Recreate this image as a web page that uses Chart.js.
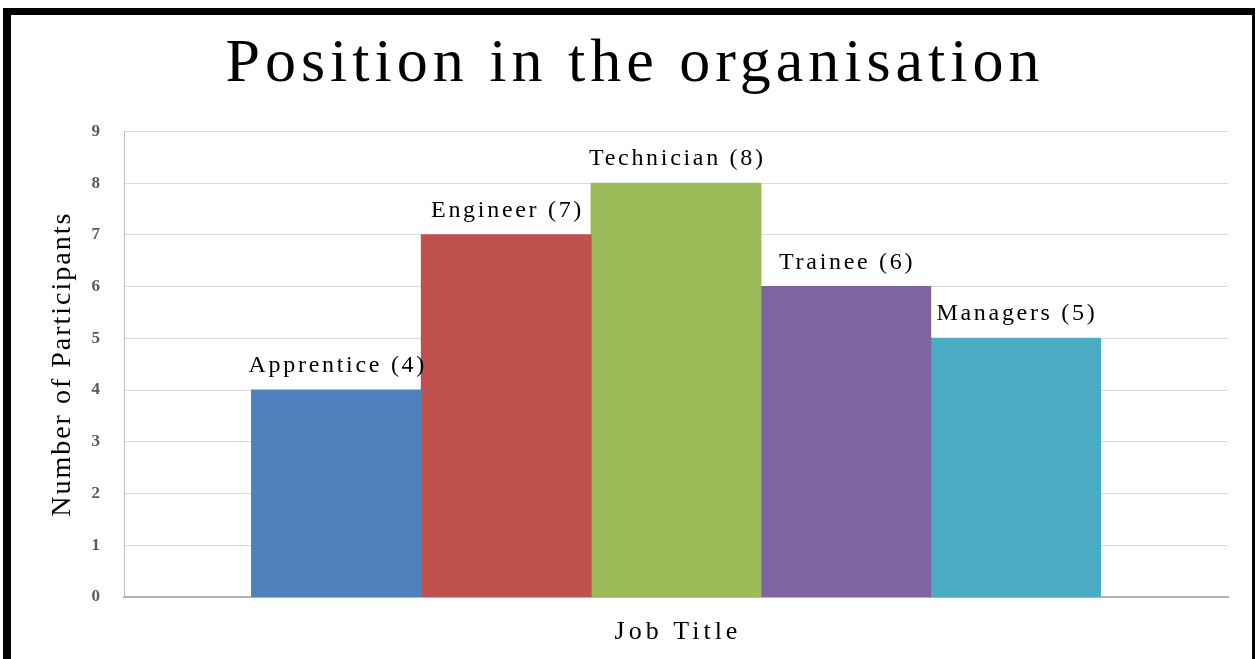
<!DOCTYPE html>
<html>
<head>
<meta charset="utf-8">
<script src="https://cdn.jsdelivr.net/npm/chart.js@4.4.1/dist/chart.umd.min.js"></script>
<style>
   html, body { margin: 0; padding: 0; background: #ffffff; }
   #frame { position: relative; width: 1256px; height: 659px; overflow: hidden; }
   #frame canvas { position: absolute; left: 0; top: 0; }
   #border
   {
      position: absolute; left: 3px; top: 8px; width: 1252px; height: 700px;
      box-sizing: border-box; pointer-events: none;
      border-top: 7px solid #000; border-left: 8px solid #000; border-right: 3px solid #000;
   }
</style>
</head>
<body>
<div id="frame">
   <canvas id="positionChart" width="1256" height="659"></canvas>
   <div id="border"></div>
</div>
<script>
// one category on the x axis, one dataset per job title
const categories = ["Job Title"];
const jobTitles = ["Apprentice", "Engineer", "Technician", "Trainee", "Managers"];
const participants = [4, 7, 8, 6, 5];
const barColours = ["#4f81bd", "#c0504d", "#9bbb59", "#8064a2", "#4bacc6"];
const yMin = 0;
const yMax = 9;
const yStep = 1;

const serif = "'Liberation Serif', 'Times New Roman', serif";

// canvas has no letter-spacing option in Chart.js, so wrap the draw calls
function spaced(draw, spacing)
{
   return function()
   {
      const ctx = this.ctx;
      ctx.save();
      ctx.letterSpacing = spacing;
      draw.apply(this, arguments);
      ctx.restore();
   };
}

const letterSpacingPlugin =
{
   id: "letterSpacing",
   afterLayout(chart)
   {
      const title = chart.titleBlock;
      if (title && !title.spaced)
      {
         title.draw = spaced(title.draw, "5px");
         title.spaced = true;
      }
      const yScale = chart.scales.y;
      if (yScale && !yScale.spaced)
      {
         yScale.drawTitle = spaced(yScale.drawTitle, "2px");
         yScale.spaced = true;
      }
      const xScale = chart.scales.x;
      if (xScale && !xScale.spaced)
      {
         xScale.drawLabels = spaced(xScale.drawLabels, "4px");
         xScale.spaced = true;
      }
   }
};

const barLabelPlugin =
{
   id: "barLabels",
   afterDatasetsDraw(chart)
   {
      const ctx = chart.ctx;
      ctx.save();
      ctx.font = "24px " + serif;
      ctx.letterSpacing = "2.7px";
      ctx.fillStyle = "#000000";
      ctx.textAlign = "center";
      ctx.textBaseline = "alphabetic";
      chart.data.datasets.forEach(function(dataset, setIndex)
      {
         const bar = chart.getDatasetMeta(setIndex).data[0];
         const text = dataset.label + " (" + dataset.data[0] + ")";
         ctx.fillText(text, bar.x + 1.35, bar.y - 18);
      });
      ctx.restore();
   }
};

const datasets = jobTitles.map(function(title, index)
{
   return {
      label: title,
      data: [participants[index]],
      backgroundColor: barColours[index],
      borderWidth: 0,
      inflateAmount: 0.5,
      categoryPercentage: 0.769,
      barPercentage: 1.0,
   };
});

const ctx = document.getElementById("positionChart").getContext("2d");
const chart = new Chart(ctx,
{
   type: "bar",
   data:
   {
      labels: categories,
      datasets: datasets,
   },
   options:
   {
      responsive: false,
      animation: false,
      layout: { padding: { left: 42, right: 28, top: 0, bottom: 0 } },
      plugins:
      {
         legend: { display: false },
         tooltip: { enabled: false },
         title:
         {
            display: true,
            text: "Position in the organisation",
            color: "#000000",
            font: { family: serif, size: 62, weight: "normal", lineHeight: 1.2 },
            padding: { top: 28, bottom: 29 },
         },
      },
      scales:
      {
         x:
         {
            grid: { display: false, drawTicks: false },
            border: { display: true, color: "#b3b3b3", width: 2 },
            ticks:
            {
               color: "#000000",
               padding: 20,
               labelOffset: 2,
               font: { family: serif, size: 26, lineHeight: 1.2 },
            },
            afterFit: function(scale) { scale.height = 62; },
         },
         y:
         {
            min: yMin,
            max: yMax,
            grid: { color: "#d9d9d9", lineWidth: 1, drawTicks: false },
            border: { display: true, color: "#bfbfbf", width: 1 },
            ticks:
            {
               stepSize: yStep,
               color: "#595959",
               padding: 24,
               font: { family: serif, size: 17, weight: "bold" },
            },
            title:
            {
               display: true,
               text: "Number of Participants",
               color: "#000000",
               font: { family: serif, size: 28, lineHeight: 1.2 },
               padding: { top: 3.7, bottom: 0 },
            },
            afterFit: function(scale) { scale.width = 82; },
         },
      },
   },
   plugins: [letterSpacingPlugin, barLabelPlugin],
});
</script>
</body>
</html>
